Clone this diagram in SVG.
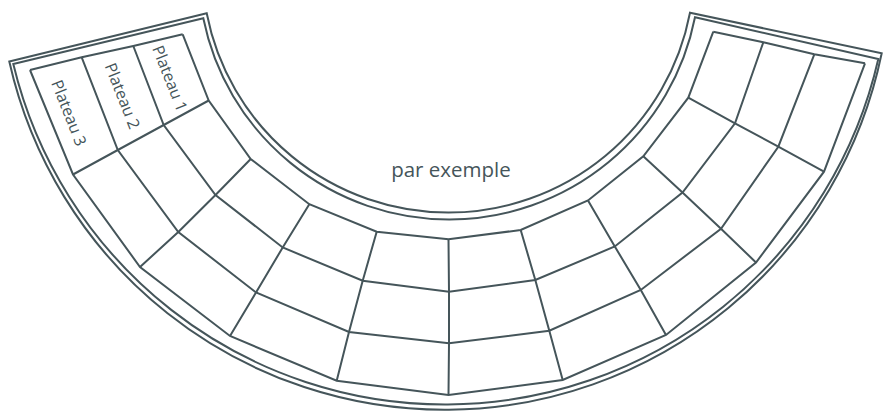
<svg xmlns="http://www.w3.org/2000/svg" width="884" height="412" viewBox="0 0 884 412">
  <style>
    .ln { fill: none; stroke: #45555a; stroke-width: 2; stroke-linejoin: miter; stroke-linecap: butt; }
    .lbl { fill: #45555a; font-family: "Open Sans", "Liberation Sans", sans-serif; font-size: 16px; text-anchor: middle; }
    .cap { fill: #45555a; font-family: "Open Sans", "Liberation Sans", sans-serif; font-size: 20.5px; text-anchor: middle; }
  </style>
  <rect width="884" height="412" fill="#ffffff"/>
  <g id="frame">
    <path id="frame-outer" class="ln" d="M 9.3 61.5 L 206.7 13.3 A 246.1 246.1 0 0 0 690 12.7 L 881.7 53.3 A 446.2 446.2 0 0 1 9.3 61.5 Z"/>
    <path id="frame-inner" class="ln" d="M 13.3 64 L 203.3 18.3 A 250.7 250.7 0 0 0 695 17.3 L 878.3 59 A 444.2 444.2 0 0 1 13.3 64 Z"/>
  </g>
  <g id="grid">
    <g id="rings">
      <polyline id="ring-0" class="ln" points="182.7,34.3 208.7,100.5 250.7,159 309.3,204.2 376.7,231.7 448.5,239.3 520.7,230 588,200.5 643.3,156.3 688.3,97.7 713.3,31.7"/>
      <polyline id="ring-1" class="ln" points="133.3,46 163.7,125 215.5,195 282.7,247.5 362.7,280.7 449,291.7 535.3,280 614.8,246.5 682.5,192.5 735,123.3 763.3,42.3"/>
      <polyline id="ring-2" class="ln" points="81.7,57.3 117.8,150 178.3,232 256,292.5 349,332 449,343.3 549.3,330.7 640.8,290 721,228.7 778.3,146.7 814.3,54.3"/>
      <polyline id="ring-3" class="ln" points="30,70 73,174.5 140,267 230,336 336.7,380.7 448.5,395 562.7,380 666,335 756,262.5 824,171.7 865,63.3"/>
    </g>
    <g id="radials">
      <polyline id="radial-0" class="ln" points="182.7,34.3 133.3,46 81.7,57.3 30,70"/>
      <polyline id="radial-1" class="ln" points="208.7,100.5 163.7,125 117.8,150 73,174.5"/>
      <polyline id="radial-2" class="ln" points="250.7,159 215.5,195 178.3,232 140,267"/>
      <polyline id="radial-3" class="ln" points="309.3,204.2 282.7,247.5 256,292.5 230,336"/>
      <polyline id="radial-4" class="ln" points="376.7,231.7 362.7,280.7 349,332 336.7,380.7"/>
      <polyline id="radial-5" class="ln" points="448.5,239.3 449,291.7 449,343.3 448.5,395"/>
      <polyline id="radial-6" class="ln" points="520.7,230 535.3,280 549.3,330.7 562.7,380"/>
      <polyline id="radial-7" class="ln" points="588,200.5 614.8,246.5 640.8,290 666,335"/>
      <polyline id="radial-8" class="ln" points="643.3,156.3 682.5,192.5 721,228.7 756,262.5"/>
      <polyline id="radial-9" class="ln" points="688.3,97.7 735,123.3 778.3,146.7 824,171.7"/>
      <polyline id="radial-10" class="ln" points="713.3,31.7 763.3,42.3 814.3,54.3 865,63.3"/>
    </g>
  </g>
  <g id="labels">
    <g id="plateau-1" transform="translate(170,78.5) rotate(68.5)"><text class="lbl" x="0" y="5.6">Plateau 1</text></g>
    <g id="plateau-2" transform="translate(122.5,96) rotate(68.5)"><text class="lbl" x="0" y="5.6">Plateau 2</text></g>
    <g id="plateau-3" transform="translate(69,113) rotate(68.5)"><text class="lbl" x="0" y="5.6">Plateau 3</text></g>
    <text id="caption" class="cap" x="451" y="177">par exemple</text>
  </g>
</svg>
